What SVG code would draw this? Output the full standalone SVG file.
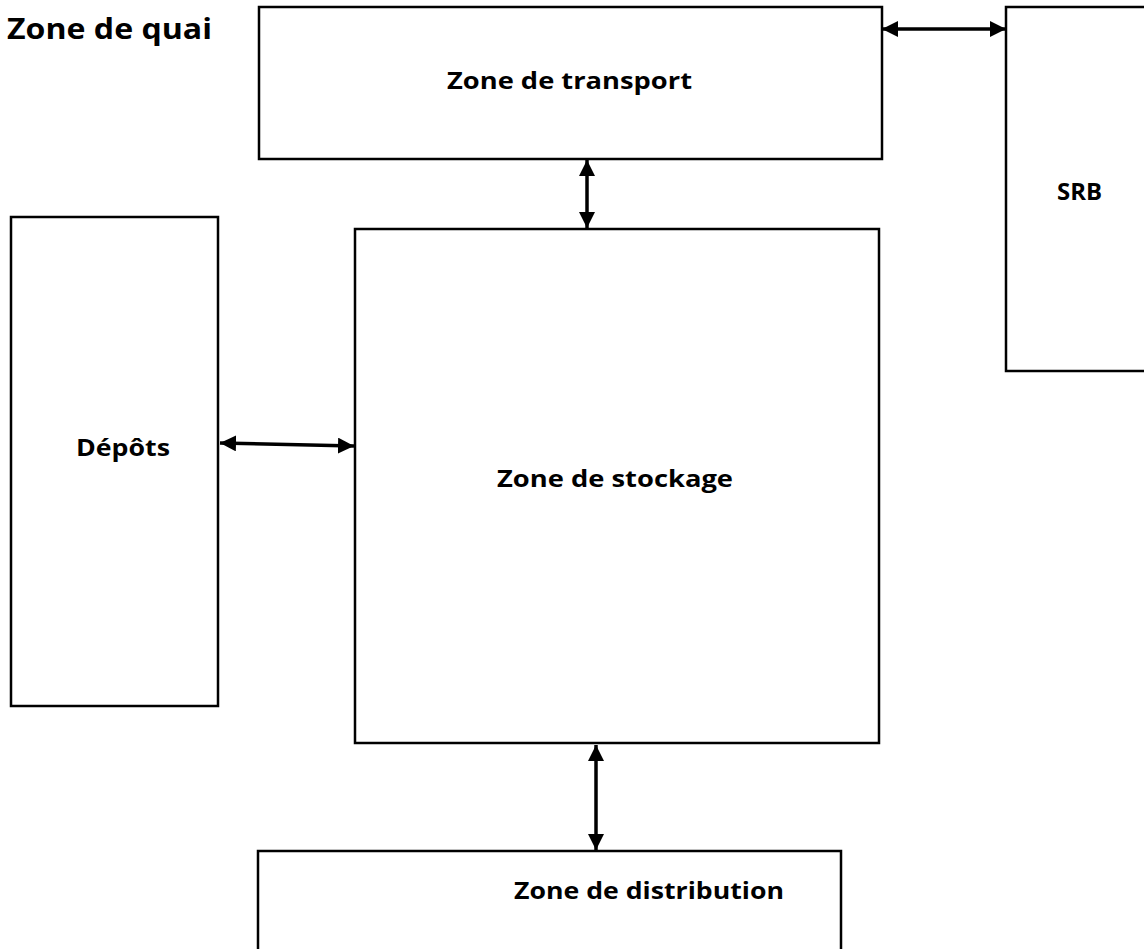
<svg xmlns="http://www.w3.org/2000/svg" width="1144" height="949" viewBox="0 0 1144 949">
<style>
.box{fill:#fff;stroke:#000;stroke-width:2.5}
.lbl{font-family:"Open Sans","Liberation Sans",sans-serif;font-weight:bold;font-size:23px;fill:#000}
.title{font-family:"Open Sans","Liberation Sans",sans-serif;font-weight:bold;font-size:28px;fill:#000}
.arr{stroke:#000;stroke-width:3.5;fill:none;marker-start:url(#ah);marker-end:url(#ah)}
</style>
<defs>
<marker id="ah" markerUnits="userSpaceOnUse" markerWidth="17" markerHeight="17" refX="16" refY="8" orient="auto-start-reverse">
<path d="M0,0 L16,8 L0,16 z" fill="#000"/>
</marker>
</defs>
<rect width="1144" height="949" fill="#fff"/>
<g id="zone-de-quai"><text class="title" x="7" y="39" textLength="205" lengthAdjust="spacingAndGlyphs">Zone de quai</text></g>
<g id="zone-de-transport"><rect class="box" x="259" y="7" width="623" height="152"/><text class="lbl" x="447" y="89" textLength="245" lengthAdjust="spacingAndGlyphs">Zone de transport</text></g>
<g id="srb"><rect class="box" x="1006" y="7" width="150" height="364"/><text class="lbl" x="1057" y="200" textLength="45" lengthAdjust="spacingAndGlyphs">SRB</text></g>
<g id="depots"><rect class="box" x="11" y="217" width="207" height="489"/><text class="lbl" x="76" y="456" textLength="94" lengthAdjust="spacingAndGlyphs">Dépôts</text></g>
<g id="zone-de-stockage"><rect class="box" x="355" y="229" width="524" height="514"/><text class="lbl" x="497" y="487" textLength="236" lengthAdjust="spacingAndGlyphs">Zone de stockage</text></g>
<g id="zone-de-distribution"><rect class="box" x="258" y="851" width="583" height="120"/><text class="lbl" x="514" y="899" textLength="270" lengthAdjust="spacingAndGlyphs">Zone de distribution</text></g>
<g id="connectors">
<line class="arr" x1="882" y1="29" x2="1006" y2="29"/>
<line class="arr" x1="587" y1="160" x2="587" y2="228"/>
<line class="arr" x1="220" y1="443" x2="354" y2="446"/>
<line class="arr" x1="596" y1="745" x2="596" y2="850"/>
</g>
</svg>
